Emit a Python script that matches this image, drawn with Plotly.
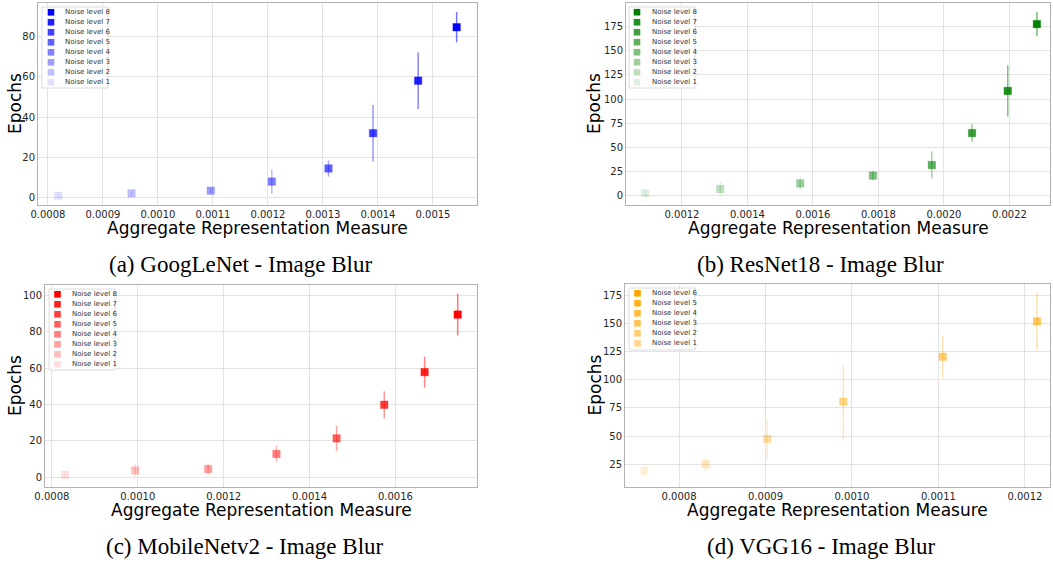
import plotly.graph_objects as go

W, H = 1053, 567

# ---------------- data ----------------
levels_8 = [1, 2, 3, 4, 5, 6, 7, 8]
levels_6 = [1, 2, 3, 4, 5, 6]

googlenet_x = [0.000819, 0.000952, 0.001096, 0.001207, 0.001310, 0.001391, 0.001473, 0.001543]
googlenet_y = [1.0, 2.2, 3.5, 8.0, 14.5, 32.0, 58.0, 84.5]
googlenet_err = [0.8, 1.0, 1.5, 6.0, 4.0, 14.0, 14.0, 7.5]

resnet_x = [0.001088, 0.001317, 0.001561, 0.001783, 0.001963, 0.002086, 0.002195, 0.002284]
resnet_y = [2.8, 7.2, 13.0, 21.0, 32.0, 65.0, 108.5, 177.5]
resnet_err = [3.0, 7.0, 6.0, 5.0, 14.0, 9.0, 26.5, 12.5]

mobilenet_x = [0.000831, 0.000994, 0.001164, 0.001323, 0.001463, 0.001574, 0.001668, 0.001745]
mobilenet_y = [1.3, 3.6, 4.4, 12.7, 21.3, 39.8, 57.8, 89.5]
mobilenet_err = [1.0, 3.5, 3.0, 4.5, 7.0, 7.5, 8.5, 11.5]

vgg_x = [0.000760, 0.000831, 0.000902, 0.000990, 0.001105, 0.001214]
vgg_y = [19.0, 25.0, 47.5, 80.5, 120.5, 152.0]
vgg_err = [5.0, 8.5, 18.0, 33.0, 19.0, 25.5]

captions = ["(a) GoogLeNet - Image Blur", "(b) ResNet18 - Image Blur",
            "(c) MobileNetv2 - Image Blur", "(d) VGG16 - Image Blur"]

# ---------------- style ----------------
def px_x(p):
    return p / W

def px_y(p):
    return 1 - p / H

panels = [
    dict(x=googlenet_x, y=googlenet_y, e=googlenet_err, lv=levels_8, rgb=(0, 0, 255),
         dom=(38, 477, 3, 205), xr=[0.000782, 0.00158], yr=[-3.6, 96.5],
         xt=[0.0008, 0.0009, 0.0010, 0.0011, 0.0012, 0.0013, 0.0014, 0.0015], yt=[0, 20, 40, 60, 80],
         leg=dict(box=(42, 7, 108, 88), key_x=51, text_x=63, row0=12.3),
         cap=(240, 265), xtitle_y=228, ytitle_x=15,
         malpha=[l / 8 for l in levels_8], lalpha=[l / 8 for l in levels_8]),
    dict(x=resnet_x, y=resnet_y, e=resnet_err, lv=levels_8, rgb=(0, 128, 0),
         dom=(626, 1050, 3, 205), xr=[0.001029, 0.002324], yr=[-9.3, 199.3],
         xt=[0.0012, 0.0014, 0.0016, 0.0018, 0.0020, 0.0022], yt=[0, 25, 50, 75, 100, 125, 150, 175],
         leg=dict(box=(629, 7, 695, 88), key_x=637, text_x=650, row0=12.2),
         cap=(820, 265), xtitle_y=228, ytitle_x=594,
         malpha=[l / 8 for l in levels_8], lalpha=[l / 8 for l in levels_8]),
    dict(x=mobilenet_x, y=mobilenet_y, e=mobilenet_err, lv=levels_8, rgb=(255, 0, 0),
         dom=(45, 477, 285, 487), xr=[0.000784, 0.00179], yr=[-5.5, 105.8],
         xt=[0.0008, 0.0010, 0.0012, 0.0014, 0.0016], yt=[0, 20, 40, 60, 80, 100],
         leg=dict(box=(49, 289, 115, 370), key_x=57.5, text_x=70, row0=294.3),
         cap=(245, 546), xtitle_y=510, ytitle_x=15,
         malpha=[l / 8 for l in levels_8], lalpha=[l / 8 for l in levels_8]),
    dict(x=vgg_x, y=vgg_y, e=vgg_err, lv=levels_6, rgb=(255, 165, 0),
         dom=(625, 1050, 284, 487), xr=[0.0007375, 0.001229], yr=[4.8, 185.1],
         xt=[0.0008, 0.0009, 0.0010, 0.0011, 0.0012], yt=[25, 50, 75, 100, 125, 150, 175],
         leg=dict(box=(629, 288, 695, 350), key_x=637.5, text_x=650, row0=293.3),
         cap=(821, 546), xtitle_y=510, ytitle_x=594,
         malpha=[0.15, 0.25, 0.38, 0.48, 0.55, 0.62], lalpha=[0.45, 0.55, 0.66, 0.76, 0.88, 1.0]),
]

ROW_STEP = 10
KEY = 6.6

fig = go.Figure()
annotations = []
shapes = []
layout = dict()

for i, p in enumerate(panels):
    ax = "" if i == 0 else str(i + 1)
    xa, ya = "x" + ax, "y" + ax
    r, g, b = p["rgb"]
    for k, lv in enumerate(p["lv"]):
        a = p["malpha"][k]
        fig.add_trace(go.Scatter(
            x=[p["x"][k]], y=[p["y"][k]], xaxis=xa, yaxis=ya, mode="markers",
            showlegend=False,
            marker=dict(symbol="square", size=7.5, color=f"rgba({r},{g},{b},{a})",
                        line=dict(width=1, color=f"rgba({r},{g},{b},{a * 0.35})")),
            error_y=dict(type="data", array=[p["e"][k]], visible=True, width=0,
                         thickness=1.5, color=f"rgba({r},{g},{b},{min(1, a * 0.55)})"),
        ))
    x0, x1, y0, y1 = p["dom"]
    axis_common = dict(showgrid=True, gridcolor="#e3e3e3", gridwidth=1, zeroline=False,
                       showline=True, linecolor="#b3b3b3", linewidth=1, mirror=True,
                       ticks="", tickfont=dict(family="DejaVu Sans", size=10, color="#262626"),
                       automargin=False)
    layout["xaxis" + ax] = dict(domain=[px_x(x0), px_x(x1)], range=p["xr"], tickvals=p["xt"],
                                tickformat=".4f", anchor=ya, **axis_common)
    layout["yaxis" + ax] = dict(domain=[px_y(y1), px_y(y0)], range=p["yr"], tickvals=p["yt"],
                                anchor=xa, **axis_common)
    # axis titles
    annotations.append(dict(text="Aggregate Representation Measure", xref="paper", yref="paper",
                            x=px_x((x0 + x1) / 2), y=px_y(p["xtitle_y"]), showarrow=False,
                            xanchor="center", yanchor="middle",
                            font=dict(family="DejaVu Sans", size=17, color="black")))
    annotations.append(dict(text="Epochs", xref="paper", yref="paper", textangle=-90,
                            x=px_x(p["ytitle_x"]), y=px_y((y0 + y1) / 2), showarrow=False,
                            xanchor="center", yanchor="middle",
                            font=dict(family="DejaVu Sans", size=17, color="black")))
    # caption
    annotations.append(dict(text=captions[i], xref="paper", yref="paper",
                            x=px_x(p["cap"][0]), y=px_y(p["cap"][1]), showarrow=False,
                            xanchor="center", yanchor="middle",
                            font=dict(family="Liberation Serif", size=23, color="black")))
    # legend box + rows
    lg = p["leg"]
    bx0, by0, bx1, by1 = lg["box"]
    shapes.append(dict(type="rect", xref="paper", yref="paper", layer="above",
                       x0=px_x(bx0), x1=px_x(bx1), y0=px_y(by1), y1=px_y(by0),
                       fillcolor="rgba(255,255,255,0.85)", line=dict(color="#dcdcdc", width=1)))
    n = len(p["lv"])
    for row in range(n):
        k = n - 1 - row
        lv = p["lv"][k]
        a = p["lalpha"][k]
        cy = lg["row0"] + row * ROW_STEP
        shapes.append(dict(type="rect", xref="paper", yref="paper", layer="above",
                           x0=px_x(lg["key_x"] - KEY / 2), x1=px_x(lg["key_x"] + KEY / 2),
                           y0=px_y(cy + KEY / 2), y1=px_y(cy - KEY / 2),
                           fillcolor=f"rgba({r},{g},{b},{a})", line=dict(width=0)))
        annotations.append(dict(text=f"Noise level {lv}", xref="paper", yref="paper",
                                x=px_x(lg["text_x"]), y=px_y(cy), showarrow=False,
                                xanchor="left", yanchor="middle",
                                font=dict(family="DejaVu Sans", size=7, color="#333333")))

fig.update_layout(
    width=W, height=H, margin=dict(l=0, r=0, t=0, b=0, autoexpand=False),
    paper_bgcolor="white", plot_bgcolor="white", showlegend=False,
    annotations=annotations, shapes=shapes, **layout,
)

fig.write_html("out.html", config={"displayModeBar": False},
               post_script="document.body.style.margin='0';document.body.style.overflow='hidden';")
